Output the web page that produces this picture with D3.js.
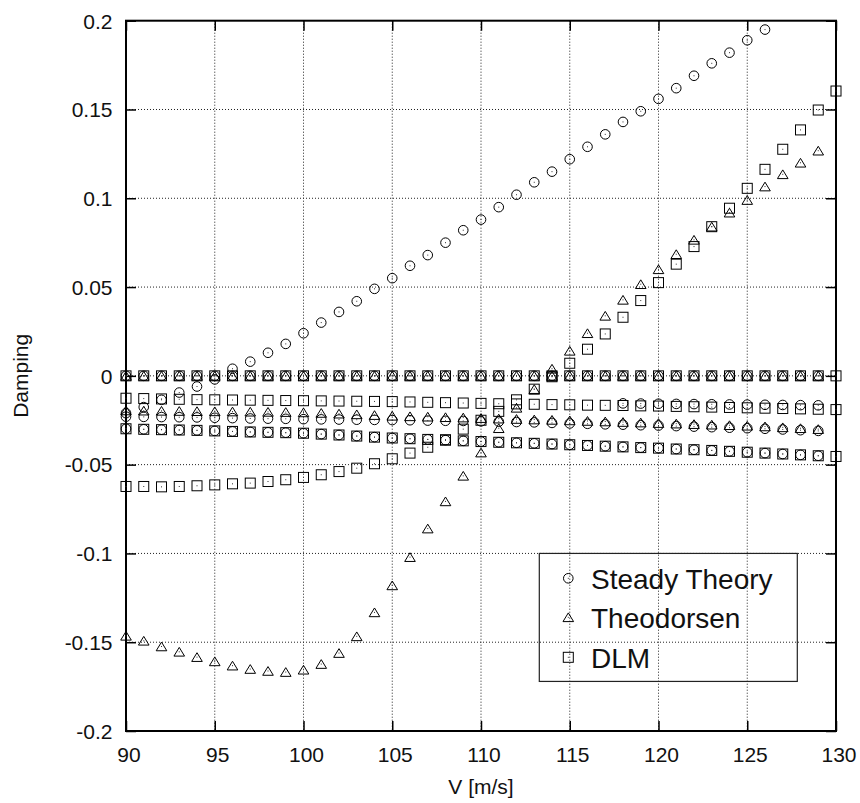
<!DOCTYPE html>
<html>
<head>
<meta charset="utf-8">
<script src="https://cdn.jsdelivr.net/npm/d3@7"></script>
<style>
  html, body { margin: 0; padding: 0; background: #fff; }
  svg { display: block; }
  text { font-family: "Liberation Sans", Arial, Helvetica, sans-serif; fill: #111; }
</style>
</head>
<body>
<svg id="chart" width="860" height="803"></svg>
<script>
// ---------------- DATA ----------------
const V = [90,91,92,93,94,95,96,97,98,99,100,101,102,103,104,105,106,107,108,109,110,
           111,112,113,114,115,116,117,118,119,120,121,122,123,124,125,126,127,128,129,130];

const xTicks = [90,95,100,105,110,115,120,125,130];
const yTicks = [-0.2,-0.15,-0.1,-0.05,0,0.05,0.1,0.15,0.2];
const xTickLabels = ["90","95","100","105","110","115","120","125","130"];
const yTickLabels = ["-0.2","-0.15","-0.1","-0.05","0","0.05","0.1","0.15","0.2"];

const seriesNames = ["Steady Theory","Theodorsen","DLM"];

// Steady Theory (circles), V = 90..129
const steadyMode1 = [0,0,0,0,0,0,0,0,0,0,0,0,0,0,0,0,0,0,0,0,0,0,0,0,0,0,0,0,0,0,0,0,0,0,0,0,0,0,0,0];
const steadyMode2 = [-0.021,-0.0176,-0.0135,-0.0094,-0.006,-0.002,0.004,0.008,0.013,0.018,
                     0.024,0.030,0.036,0.042,0.049,0.055,0.062,0.068,0.075,0.082,
                     0.088,0.095,0.102,0.109,0.115,0.122,0.129,0.136,0.143,0.149,
                     0.156,0.162,0.169,0.176,0.182,0.189,0.195,null,null,null];
const steadyMode3 = [-0.0230,-0.0231,-0.0232,-0.0233,-0.0234,-0.0236,-0.0238,-0.0240,-0.0241,-0.0242,
                     -0.0244,-0.0245,-0.0246,-0.0247,-0.0248,-0.0249,-0.0250,-0.0252,-0.0253,-0.0254,
                     -0.0256,-0.0258,-0.0260,-0.0262,-0.0265,-0.0268,-0.0270,-0.0273,-0.0275,-0.0278,
                     -0.0280,-0.0283,-0.0286,-0.0289,-0.0292,-0.0295,-0.0298,-0.0302,-0.0306,-0.0310];
const steadyMode4 = [null,null,null,null,null,null,null,null,null,null,
                     null,null,null,null,null,null,null,null,null,null,
                     null,null,null,null,null,null,null,null,-0.0155,-0.0156,
                     -0.0157,-0.0158,-0.0159,-0.0160,-0.0161,-0.0162,-0.0163,-0.0164,-0.0165,-0.0166];
const steadyMode5 = [-0.0298,-0.0301,-0.0303,-0.0305,-0.0307,-0.0310,-0.0313,-0.0316,-0.0318,-0.0320,
                     -0.0323,-0.0328,-0.0333,-0.0339,-0.0345,-0.0350,-0.0354,-0.0358,-0.0362,-0.0366,
                     -0.0370,-0.0374,-0.0377,-0.0380,-0.0384,-0.0388,-0.0392,-0.0396,-0.0400,-0.0404,
                     -0.0407,-0.0412,-0.0416,-0.0420,-0.0425,-0.0430,-0.0435,-0.0440,-0.0445,-0.0450];

// Theodorsen (triangles), V = 90..129
const theoMode1 = [0,0,0,0,0,0,0,0,0,0,0,0,0,0,0,0,0,0,0,0,0,0,0,0,0,0,0,0,0,0,0,0,0,0,0,0,0,0,0,0];
const theoMode2 = [-0.0195,-0.0196,-0.0197,-0.0198,-0.0199,-0.0200,-0.0201,-0.0202,-0.0203,-0.0204,
                   -0.0206,-0.0209,-0.0213,-0.0217,-0.0221,-0.0225,-0.0228,-0.0230,-0.0233,-0.0235,
                   -0.0238,-0.0241,-0.0243,-0.0246,-0.0248,-0.0251,-0.0254,-0.0257,-0.0260,-0.0263,
                   -0.0266,-0.0269,-0.0272,-0.0275,-0.0278,-0.0281,-0.0285,-0.0290,-0.0295,-0.0300];
const theoMode3 = [-0.1464,-0.1492,-0.1524,-0.1554,-0.1584,-0.1608,-0.1632,-0.1651,-0.1662,-0.1668,
                   -0.1655,-0.1623,-0.1561,-0.1467,-0.1332,-0.1180,-0.1021,-0.0860,-0.0707,-0.0563,
                   -0.0432,-0.0295,-0.0180,-0.0075,0.0040,0.0141,0.0240,0.0338,0.0428,0.0516,
                   0.0600,0.0685,0.0766,0.0840,0.0919,0.0990,0.1066,0.1135,0.1200,0.1268];

// DLM (squares), V = 90..130
const dlmMode1 = [0,0,0,0,0,0,0,0,0,0,0,0,0,0,0,0,0,0,0,0,0,0,0,0,0,0,0,0,0,0,0,0,0,0,0,0,0,0,0,0,0];
const dlmMode2 = [-0.0126,-0.0128,-0.0130,-0.0132,-0.0134,-0.0135,-0.0136,-0.0137,-0.0138,-0.0139,
                  -0.0140,-0.0141,-0.0142,-0.0143,-0.0144,-0.0145,-0.0147,-0.0149,-0.0151,-0.0153,
                  -0.0155,-0.0157,-0.0158,-0.0160,-0.0162,-0.0163,-0.0165,-0.0166,-0.0167,-0.0169,
                  -0.0170,-0.0172,-0.0174,-0.0176,-0.0178,-0.0180,-0.0182,-0.0184,-0.0186,-0.0188,-0.0190];
const dlmMode3 = [-0.0298,-0.0301,-0.0303,-0.0305,-0.0307,-0.0310,-0.0313,-0.0316,-0.0318,-0.0320,
                  -0.0323,-0.0328,-0.0333,-0.0339,-0.0345,-0.0350,-0.0354,-0.0358,-0.0362,-0.0366,
                  -0.0370,-0.0374,-0.0377,-0.0380,-0.0384,-0.0388,-0.0392,-0.0396,-0.0400,-0.0404,
                  -0.0407,-0.0412,-0.0416,-0.0420,-0.0425,-0.0430,-0.0435,-0.0440,-0.0445,-0.0450,-0.0454];
const dlmMode4 = [-0.0623,-0.0623,-0.0625,-0.0623,-0.0619,-0.0614,-0.0608,-0.0604,-0.0595,-0.0585,
                  -0.0572,-0.0557,-0.0539,-0.0520,-0.0495,-0.0467,-0.0435,-0.0402,-0.0360,-0.0300,
                  -0.0250,-0.0200,-0.0135,-0.0075,-0.0005,0.0071,0.0150,0.0236,0.0330,0.0424,
                  0.0525,0.0629,0.0728,0.0840,0.0944,0.1056,0.1163,0.1276,0.1385,0.1497,0.1604];

// ---------------- LAYOUT ----------------
const M = { left: 126, right: 836, top: 20.7, bottom: 731 };
const svg = d3.select("#chart");

const x = d3.scaleLinear().domain([90, 130]).range([M.left, M.right]);
const y = d3.scaleLinear().domain([-0.2, 0.2]).range([M.bottom, M.top]);

// grid
const grid = svg.append("g").attr("stroke", "#222").attr("stroke-width", 1)
  .attr("stroke-dasharray", "1,2").attr("fill", "none");
xTicks.slice(1, -1).forEach(t => {
  grid.append("line").attr("x1", x(t)).attr("x2", x(t)).attr("y1", M.top).attr("y2", M.bottom);
});
yTicks.slice(1, -1).forEach(t => {
  grid.append("line").attr("x1", M.left).attr("x2", M.right).attr("y1", y(t)).attr("y2", y(t));
});

// axes via d3 axis generators (inward ticks, mirrored)
function styleAxis(g) {
  g.select(".domain").remove();
  g.selectAll(".tick line").attr("stroke", "#000").attr("stroke-width", 1.5);
}
const fmtX = (d, i) => xTickLabels[i];
const fmtY = (d, i) => yTickLabels[i];

const gx = svg.append("g").attr("transform", `translate(0,${M.bottom})`)
  .call(d3.axisBottom(x).tickValues(xTicks).tickFormat(fmtX).tickSizeInner(-10).tickSizeOuter(0).tickPadding(0));
styleAxis(gx);
gx.selectAll(".tick text").attr("font-size", 21).attr("fill", "#111")
  .attr("font-family", '"Liberation Sans", Arial, sans-serif')
  .attr("dy", null).attr("y", 31).attr("x", 2.5);

const gxTop = svg.append("g").attr("transform", `translate(0,${M.top})`)
  .call(d3.axisTop(x).tickValues(xTicks).tickFormat("").tickSizeInner(-10).tickSizeOuter(0));
styleAxis(gxTop);

const gy = svg.append("g").attr("transform", `translate(${M.left},0)`)
  .call(d3.axisLeft(y).tickValues(yTicks).tickFormat(fmtY).tickSizeInner(-10).tickSizeOuter(0).tickPadding(0));
styleAxis(gy);
gy.selectAll(".tick text").attr("font-size", 21).attr("fill", "#111")
  .attr("font-family", '"Liberation Sans", Arial, sans-serif')
  .attr("x", -13.5).attr("dy", "0.35em");

const gyRight = svg.append("g").attr("transform", `translate(${M.right},0)`)
  .call(d3.axisRight(y).tickValues(yTicks).tickFormat("").tickSizeInner(-10).tickSizeOuter(0));
styleAxis(gyRight);

// frame
svg.append("rect").attr("x", M.left).attr("y", M.top)
  .attr("width", M.right - M.left).attr("height", M.bottom - M.top)
  .attr("fill", "none").attr("stroke", "#000").attr("stroke-width", 2);

// axis labels
svg.append("text").attr("x", (M.left + M.right) / 2).attr("y", 794)
  .attr("text-anchor", "middle").attr("font-size", 21).text("V [m/s]");
svg.append("text").attr("transform", `translate(28,${(M.top + M.bottom) / 2}) rotate(-90)`)
  .attr("text-anchor", "middle").attr("font-size", 21).text("Damping");

// ---------------- MARKERS ----------------
const shapes = {
  circle: g => g.append("circle").attr("r", 4.8),
  triangle: g => g.append("path").attr("d", "M0,-4.4L5.3,4.3L-5.3,4.3Z"),
  square: g => g.append("rect").attr("x", -5).attr("y", -5).attr("width", 10).attr("height", 10)
};

function drawMarker(parent, shape, px, py) {
  const g = parent.append("g").attr("transform", `translate(${px},${py})`);
  shapes[shape](g).attr("fill", "none").attr("stroke", "#000").attr("stroke-width", 1);
  g.append("rect").attr("x", -0.5).attr("y", -0.5).attr("width", 1).attr("height", 1).attr("fill", "#333");
}

const plot = svg.append("g");
function drawSeries(modes, shape) {
  modes.forEach(arr => {
    arr.forEach((v, i) => {
      if (v === null || v === undefined) return;
      if (v > 0.2 || v < -0.2) return;
      drawMarker(plot, shape, x(V[i]), y(v));
    });
  });
}
drawSeries([dlmMode1, dlmMode2, dlmMode3, dlmMode4], "square");
drawSeries([theoMode1, theoMode2, theoMode3], "triangle");
drawSeries([steadyMode1, steadyMode2, steadyMode3, steadyMode4, steadyMode5], "circle");

// ---------------- LEGEND ----------------
const lg = svg.append("g");
lg.append("rect").attr("x", 539.3).attr("y", y(-0.1)).attr("width", 258).attr("height", 128)
  .attr("fill", "none").attr("stroke", "#222").attr("stroke-width", 1.2);
const legendShapes = ["circle", "triangle", "square"];
const rowY = [578.3, 617.3, 657.3];
seriesNames.forEach((name, i) => {
  drawMarker(lg, legendShapes[i], 568.3, rowY[i]);
  lg.append("text").attr("x", 591).attr("y", rowY[i] + 10.5)
    .attr("font-size", 28).text(name);
});
</script>
</body>
</html>
